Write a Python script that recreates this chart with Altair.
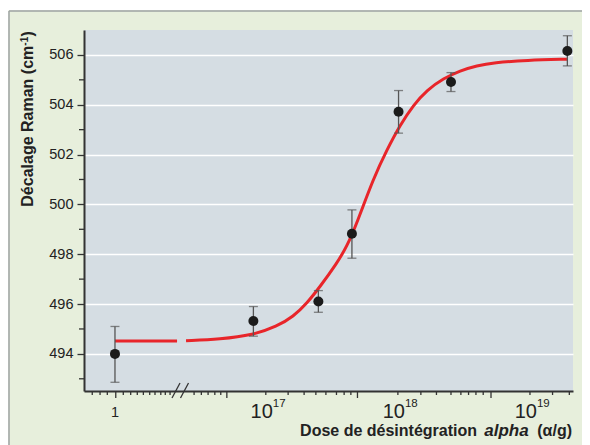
import altair as alt
import pandas as pd

# ---- data (x = log10 of dose; the first point "1" sits left of the axis break) ----
pt_x = [15.858, 16.906, 17.398, 17.652, 18.005, 18.402, 19.283]
pt_y = [494.0, 495.32, 496.10, 498.82, 503.72, 504.91, 506.16]
err_lo = [492.86, 494.71, 495.67, 497.84, 502.86, 504.53, 505.56]
err_hi = [495.10, 495.90, 496.54, 499.78, 504.57, 505.29, 506.77]

curve_x = [15.858, 16.328,
           16.396, 16.654, 16.906, 17.083, 17.209, 17.311, 17.411, 17.538, 17.614,
           17.689, 17.815, 17.917, 18.017, 18.118, 18.220, 18.345, 18.472, 18.598,
           18.724, 18.977, 19.280]
curve_y = [494.52, 494.52,
           494.53, 494.59, 494.76, 495.10, 495.50, 496.03, 496.70, 497.64, 498.31,
           499.24, 501.05, 502.19, 503.19, 503.99, 504.59, 505.06, 505.37, 505.57,
           505.69, 505.79, 505.83]
curve_seg = [0, 0] + [1] * 21

# axis ticks / labels
x_major_ticks = [15.864, 16.705, 17.694, 18.705]
x_minor_ticks = [15.686, 15.745, 15.800, 15.921, 15.977, 16.027, 16.073, 16.121, 16.161,
                 16.205, 16.239, 16.275, 16.457, 16.512, 16.563, 16.614, 16.659, 17.0,
                 17.169, 17.290, 17.379, 17.455, 17.535, 17.593, 17.644, 18.0, 18.174,
                 18.292, 18.402, 18.477, 18.535, 18.591, 18.646, 19.0, 19.171, 19.298]
x_pow_pos = [17, 18, 19]
x_pow_base = ["10", "10", "10"]
x_pow_exp = ["17", "18", "19"]
x_one_pos = [15.858]
x_one_label = ["1"]
y_major = [494, 496, 498, 500, 502, 504, 506]
y_minor = [493, 495, 497, 499, 501, 503, 505]

W, H = 489, 361
XDOM = [15.6235, 19.3258]
YDOM = [492.51, 507.0]
GREEN = "#e7efdc"
PLOT_BG = "#d5dde3"
TXT = "#222222"
AX = "#333333"

xs = alt.Scale(domain=XDOM, nice=False, zero=False)
ys = alt.Scale(domain=YDOM, nice=False, zero=False)

pts = pd.DataFrame({"x": pt_x, "y": pt_y, "lo": err_lo, "hi": err_hi})
curve = pd.DataFrame({"x": curve_x, "y": curve_y, "seg": curve_seg})
majt = pd.DataFrame({"x": x_major_ticks})
mint = pd.DataFrame({"x": x_minor_ticks})
powl = pd.DataFrame({"x": x_pow_pos, "base": x_pow_base, "exp": x_pow_exp})
onel = pd.DataFrame({"x": x_one_pos, "t": x_one_label})
ymin = pd.DataFrame({"y": y_minor})
one = pd.DataFrame({"a": [0]})

# frame decorations (outside plot area)
white_top = alt.Chart(one).mark_rect(color="white").encode(
    x=alt.value(-80), x2=alt.value(520), y=alt.value(-24), y2=alt.value(-19.7))
white_left = alt.Chart(one).mark_rect(color="white").encode(
    x=alt.value(-80), x2=alt.value(-75.7), y=alt.value(-24), y2=alt.value(430))
frame_top = alt.Chart(one).mark_rule(color="#9ea3a3", strokeWidth=1.5).encode(
    x=alt.value(-75), x2=alt.value(520), y=alt.value(-19))
frame_left = alt.Chart(one).mark_rule(color="#9ea3a3", strokeWidth=1.5).encode(
    x=alt.value(-75), y=alt.value(-19), y2=alt.value(430))

base_axis_chart = alt.Chart(pts).mark_point(opacity=0).encode(
    x=alt.X("x:Q", scale=xs, axis=alt.Axis(domain=True, domainColor=AX, domainWidth=2,
                                              ticks=False, labels=False, grid=False, title=None)),
    y=alt.Y("y:Q", scale=ys, axis=alt.Axis(values=y_major, domainColor=AX, domainWidth=2,
                                              tickColor=AX, tickWidth=1.3, tickSize=7,
                                              labelFontSize=14.5, labelColor=TXT,
                                              labelFont="Liberation Sans", labelPadding=4,
                                              grid=True, gridColor="white", gridWidth=1.6,
                                              title=None)),
)

y_minor_ticks = alt.Chart(ymin).mark_rule(color=AX, strokeWidth=1.3).encode(
    y=alt.Y("y:Q", scale=ys), x=alt.value(-5), x2=alt.value(0))

x_major = alt.Chart(majt).mark_rule(color=AX, strokeWidth=1.3).encode(
    x=alt.X("x:Q", scale=xs), y=alt.value(H), y2=alt.value(H + 7))
x_minor = alt.Chart(mint).mark_rule(color=AX, strokeWidth=1.3).encode(
    x=alt.X("x:Q", scale=xs), y=alt.value(H), y2=alt.value(H + 4))

slash1 = alt.Chart(one).mark_rule(color=AX, strokeWidth=1.3).encode(
    x=alt.value(88), x2=alt.value(96), y=alt.value(368), y2=alt.value(353))
slash2 = alt.Chart(one).mark_rule(color=AX, strokeWidth=1.3).encode(
    x=alt.value(96.5), x2=alt.value(104.5), y=alt.value(368), y2=alt.value(353))

line = alt.Chart(curve).mark_line(color="#e8252a", strokeWidth=3, interpolate="basis").encode(
    x=alt.X("x:Q", scale=xs), y=alt.Y("y:Q", scale=ys), detail="seg:N")

ebar = alt.Chart(pts).mark_rule(color="#555555", strokeWidth=1.3).encode(
    x=alt.X("x:Q", scale=xs), y=alt.Y("lo:Q", scale=ys), y2="hi:Q")
cap_lo = alt.Chart(pts).mark_tick(orient="horizontal", size=9, thickness=1.3, color="#555555").encode(
    x=alt.X("x:Q", scale=xs), y=alt.Y("lo:Q", scale=ys))
cap_hi = alt.Chart(pts).mark_tick(orient="horizontal", size=9, thickness=1.3, color="#555555").encode(
    x=alt.X("x:Q", scale=xs), y=alt.Y("hi:Q", scale=ys))
dots = alt.Chart(pts).mark_circle(size=100, color="#1b1b1b", opacity=1).encode(
    x=alt.X("x:Q", scale=xs), y=alt.Y("y:Q", scale=ys))

lab_base = alt.Chart(powl).mark_text(align="right", baseline="alphabetic", dx=7, fontSize=20,
                                     font="Liberation Sans", color=TXT).encode(
    x=alt.X("x:Q", scale=xs), y=alt.value(388.3), text="base:N")
lab_exp = alt.Chart(powl).mark_text(align="left", baseline="alphabetic", dx=7, fontSize=11.5,
                                    font="Liberation Sans", color=TXT).encode(
    x=alt.X("x:Q", scale=xs), y=alt.value(376.7), text="exp:N")
lab_one = alt.Chart(onel).mark_text(align="center", baseline="alphabetic", fontSize=14.5,
                                    font="Liberation Sans", color=TXT).encode(
    x=alt.X("x:Q", scale=xs), y=alt.value(386.7), text="t:N")

tfont = dict(font="Liberation Sans", fontSize=16, fontWeight="bold", color=TXT, baseline="alphabetic")
xt1 = alt.Chart(one).mark_text(align="right", **tfont).encode(
    x=alt.value(393), y=alt.value(406), text=alt.value("Dose de désintégration"))
xt2 = alt.Chart(one).mark_text(align="center", fontStyle="italic", font="Liberation Sans",
                               fontSize=17, fontWeight="bold", color=TXT,
                               baseline="alphabetic").encode(
    x=alt.value(422.5), y=alt.value(406), text=alt.value("alpha"))
xt3 = alt.Chart(one).mark_text(align="right", **tfont).encode(
    x=alt.value(488), y=alt.value(406), text=alt.value("(α/g)"))

yt1 = alt.Chart(one).mark_text(align="left", angle=270, **tfont).encode(
    x=alt.value(-51), y=alt.value(176.7), text=alt.value("Décalage Raman (cm"))
yt2 = alt.Chart(one).mark_text(align="left", angle=270, font="Liberation Sans", fontSize=10,
                               fontWeight="bold", color=TXT, baseline="alphabetic").encode(
    x=alt.value(-56), y=alt.value(15.7), text=alt.value("-1"))
yt3 = alt.Chart(one).mark_text(align="left", angle=270, **tfont).encode(
    x=alt.value(-51), y=alt.value(6.5), text=alt.value(")"))

chart = alt.layer(
    white_top, white_left, frame_top, frame_left,
    base_axis_chart, y_minor_ticks, x_major, x_minor, slash1, slash2,
    line, ebar, cap_lo, cap_hi, dots,
    lab_base, lab_exp, lab_one, xt1, xt2, xt3, yt1, yt2, yt3,
).properties(
    width=W, height=H,
    autosize=alt.AutoSizeParams(type="none"),
    padding={"left": 76, "top": 22, "right": 9, "bottom": 54},
    background=GREEN,
).configure_view(fill=PLOT_BG, stroke=None)

chart.save("out.html", embed_options={"renderer": "svg", "actions": False})
